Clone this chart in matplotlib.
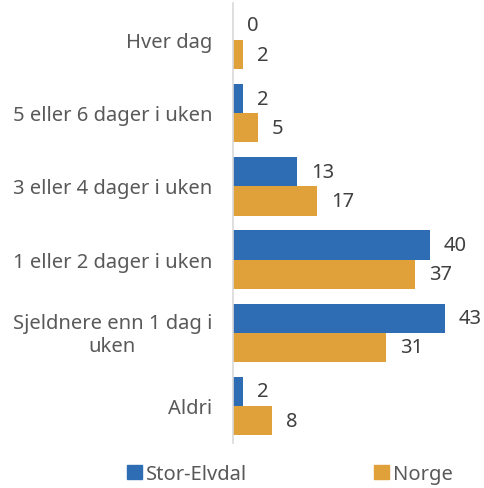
import matplotlib
matplotlib.use("Agg")
import matplotlib.pyplot as plt
import numpy as np
from matplotlib.patches import Patch

categories = ["Hver dag", "5 eller 6 dager i uken", "3 eller 4 dager i uken",
              "1 eller 2 dager i uken", "Sjeldnere enn 1 dag i\nuken", "Aldri"]
stor_elvdal = [0, 2, 13, 40, 43, 2]
norge = [2, 5, 17, 37, 31, 8]
series_names = ["Stor-Elvdal", "Norge"]

blue = "#2E6DB4"
orange = "#E0A03A"

plt.rcParams['font.family'] = ['Noto Sans', 'DejaVu Sans']
fs = 14.5

fig = plt.figure(figsize=(4.84, 4.89), dpi=100)
ax = fig.add_axes([233/484, 1-443.6/489, 244/484, (443.6-4.4)/489])

y = np.arange(len(categories))
h = 0.4
b1 = ax.barh(y - h/2, stor_elvdal, height=h, color=blue)
b2 = ax.barh(y + h/2, norge, height=h, color=orange)

for bars, vals in ((b1, stor_elvdal), (b2, norge)):
    for bar, v in zip(bars, vals):
        ax.annotate(str(v), (bar.get_width(), bar.get_y() + bar.get_height()/2),
                    xytext=(10, 0), textcoords="offset points", ha="left", va="center",
                    fontsize=fs, color="#404040")

ax.set_ylim(len(categories) - 0.5, -0.5)
ax.set_xlim(0, 49.5)
ax.set_yticks(y)
ax.set_yticklabels([])
for yi, cat in zip(y, categories):
    ax.annotate(cat, (0, yi), xycoords=("axes fraction", "data"),
                xytext=(-15, -1.5), textcoords="offset points",
                ha="right", va="center", multialignment="center",
                fontsize=fs, color="#595959")
ax.tick_params(axis="y", length=0)
ax.set_xticks([])
for s in ["top", "right", "bottom"]:
    ax.spines[s].set_visible(False)
ax.spines["left"].set_color("#d9d9d9")
ax.spines["left"].set_linewidth(1.2)

handles = [Patch(color=blue), Patch(color=orange)]
fig.legend(handles, series_names, loc="center", bbox_to_anchor=(290/484, 1-475/489),
           ncol=2, frameon=False, fontsize=fs, columnspacing=6.3,
           handlelength=0.75, handleheight=0.75, handletextpad=0.2,
           labelcolor="#595959")

fig.savefig("out.png", dpi=100)
